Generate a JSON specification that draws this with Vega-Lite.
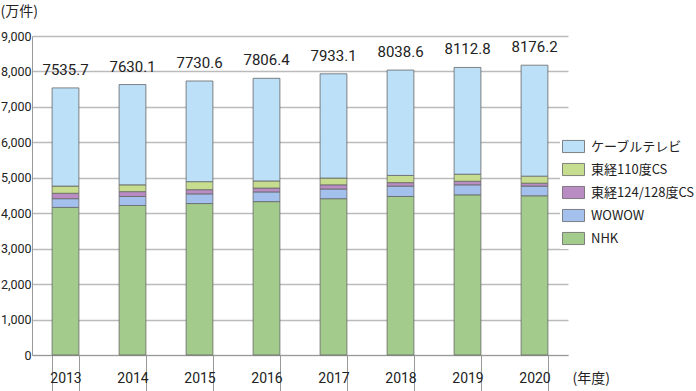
{
  "$schema": "https://vega.github.io/schema/vega-lite/v6.json",
  "width": 536,
  "height": 319,
  "autosize": {"type": "none"},
  "padding": {"left": 32, "top": 36, "right": 128, "bottom": 36},
  "background": "white",
  "config": {
    "view": {"stroke": null},
    "font": "Roboto, Liberation Sans, sans-serif",
    "axisX": {
      "titleAngle": 0, "titleX": 540, "titleY": 23,
      "titleAlign": "left", "titleBaseline": "middle",
      "titleFont": "Noto Sans CJK JP", "titleFontSize": 14, "titleFontWeight": "normal", "titleColor": "#222",
      "labelAngle": 0, "labelFontSize": 14, "labelColor": "#222", "labelPadding": -13,
      "labelBaseline": "middle", "labelOverlap": false,
      "tickBand": "extent", "tickSize": 36, "tickColor": "#999", "tickWidth": 1,
      "domainColor": "#999", "domainWidth": 1
    },
    "axisY": {
      "titleAngle": 0, "titleX": -32, "titleY": -25,
      "titleAlign": "left", "titleBaseline": "middle",
      "titleFont": "Noto Sans CJK JP", "titleFontSize": 14, "titleFontWeight": "normal", "titleColor": "#222",
      "labelFontSize": 12.5, "labelColor": "#222", "labelPadding": 1,
      "labelOverlap": false, "labelBound": false,
      "ticks": false, "gridColor": "#bbb", "gridWidth": 1.5,
      "domainColor": "#999", "domainWidth": 1
    }
  },
  "datasets": {
    "seg": [
      {"year": "2013", "type": "NHK", "o": 1, "v": 4164},
      {"year": "2013", "type": "WOWOW", "o": 2, "v": 246},
      {"year": "2013", "type": "東経124/128度CS", "o": 3, "v": 153},
      {"year": "2013", "type": "東経110度CS", "o": 4, "v": 202},
      {"year": "2013", "type": "ケーブルテレビ", "o": 5, "v": 2770.7},
      {"year": "2014", "type": "NHK", "o": 1, "v": 4219},
      {"year": "2014", "type": "WOWOW", "o": 2, "v": 254},
      {"year": "2014", "type": "東経124/128度CS", "o": 3, "v": 136},
      {"year": "2014", "type": "東経110度CS", "o": 4, "v": 192},
      {"year": "2014", "type": "ケーブルテレビ", "o": 5, "v": 2829.1},
      {"year": "2015", "type": "NHK", "o": 1, "v": 4273},
      {"year": "2015", "type": "WOWOW", "o": 2, "v": 273},
      {"year": "2015", "type": "東経124/128度CS", "o": 3, "v": 118},
      {"year": "2015", "type": "東経110度CS", "o": 4, "v": 227},
      {"year": "2015", "type": "ケーブルテレビ", "o": 5, "v": 2839.6},
      {"year": "2016", "type": "NHK", "o": 1, "v": 4328},
      {"year": "2016", "type": "WOWOW", "o": 2, "v": 273},
      {"year": "2016", "type": "東経124/128度CS", "o": 3, "v": 109},
      {"year": "2016", "type": "東経110度CS", "o": 4, "v": 200},
      {"year": "2016", "type": "ケーブルテレビ", "o": 5, "v": 2896.4},
      {"year": "2017", "type": "NHK", "o": 1, "v": 4410},
      {"year": "2017", "type": "WOWOW", "o": 2, "v": 273},
      {"year": "2017", "type": "東経124/128度CS", "o": 3, "v": 118},
      {"year": "2017", "type": "東経110度CS", "o": 4, "v": 191},
      {"year": "2017", "type": "ケーブルテレビ", "o": 5, "v": 2941.1},
      {"year": "2018", "type": "NHK", "o": 1, "v": 4473},
      {"year": "2018", "type": "WOWOW", "o": 2, "v": 292},
      {"year": "2018", "type": "東経124/128度CS", "o": 3, "v": 98},
      {"year": "2018", "type": "東経110度CS", "o": 4, "v": 203},
      {"year": "2018", "type": "ケーブルテレビ", "o": 5, "v": 2972.6},
      {"year": "2019", "type": "NHK", "o": 1, "v": 4519},
      {"year": "2019", "type": "WOWOW", "o": 2, "v": 282},
      {"year": "2019", "type": "東経124/128度CS", "o": 3, "v": 101},
      {"year": "2019", "type": "東経110度CS", "o": 4, "v": 199},
      {"year": "2019", "type": "ケーブルテレビ", "o": 5, "v": 3011.8},
      {"year": "2020", "type": "NHK", "o": 1, "v": 4492},
      {"year": "2020", "type": "WOWOW", "o": 2, "v": 273},
      {"year": "2020", "type": "東経124/128度CS", "o": 3, "v": 82},
      {"year": "2020", "type": "東経110度CS", "o": 4, "v": 199},
      {"year": "2020", "type": "ケーブルテレビ", "o": 5, "v": 3130.2}
    ],
    "tot": [
      {"year": "2013", "total": 7535.7},
      {"year": "2014", "total": 7630.1},
      {"year": "2015", "total": 7730.6},
      {"year": "2016", "total": 7806.4},
      {"year": "2017", "total": 7933.1},
      {"year": "2018", "total": 8038.6},
      {"year": "2019", "total": 8112.8},
      {"year": "2020", "total": 8176.2}
    ]
  },
  "layer": [
    {
      "data": {"name": "seg"},
      "mark": {"type": "bar", "stroke": "#666", "strokeWidth": 0.8},
      "encoding": {
        "x": {
          "field": "year", "type": "nominal", "sort": null,
          "scale": {"paddingInner": 0.6, "paddingOuter": 0.3},
          "axis": {"title": "(年度)"}
        },
        "y": {
          "field": "v", "type": "quantitative", "stack": "zero",
          "scale": {"domain": [0, 9000]},
          "axis": {"title": "(万件)", "values": [0, 1000, 2000, 3000, 4000, 5000, 6000, 7000, 8000, 9000], "format": ",d"}
        },
        "color": {
          "field": "type", "type": "nominal",
          "scale": {
            "domain": ["ケーブルテレビ", "東経110度CS", "東経124/128度CS", "WOWOW", "NHK"],
            "range": ["#bbe0f8", "#c6dd90", "#b98cc4", "#a4c0ec", "#a2cb8c"]
          },
          "legend": {
            "title": null, "orient": "none", "legendX": 528, "legendY": 97,
            "fillColor": "white", "padding": 2,
            "symbolType": "M-1,-0.55L1,-0.55L1,0.55L-1,0.55Z", "symbolSize": 484,
            "symbolStrokeColor": "#666", "symbolStrokeWidth": 0.8, "symbolOpacity": 1,
            "labelFont": "Noto Sans CJK JP", "labelFontSize": 13, "labelColor": "#222",
            "rowPadding": 3, "labelOffset": 6
          }
        },
        "order": {"field": "o", "type": "quantitative"}
      }
    },
    {
      "data": {"name": "tot"},
      "mark": {"type": "text", "dy": -10, "fontSize": 15, "color": "#222", "baseline": "bottom"},
      "encoding": {
        "x": {"field": "year", "type": "nominal", "sort": null, "axis": {"title": "(年度)"}},
        "y": {
          "field": "total", "type": "quantitative",
          "axis": {"title": "(万件)", "values": [0, 1000, 2000, 3000, 4000, 5000, 6000, 7000, 8000, 9000], "format": ",d"}
        },
        "text": {"field": "total", "type": "quantitative", "format": ".1f"}
      }
    }
  ]
}
